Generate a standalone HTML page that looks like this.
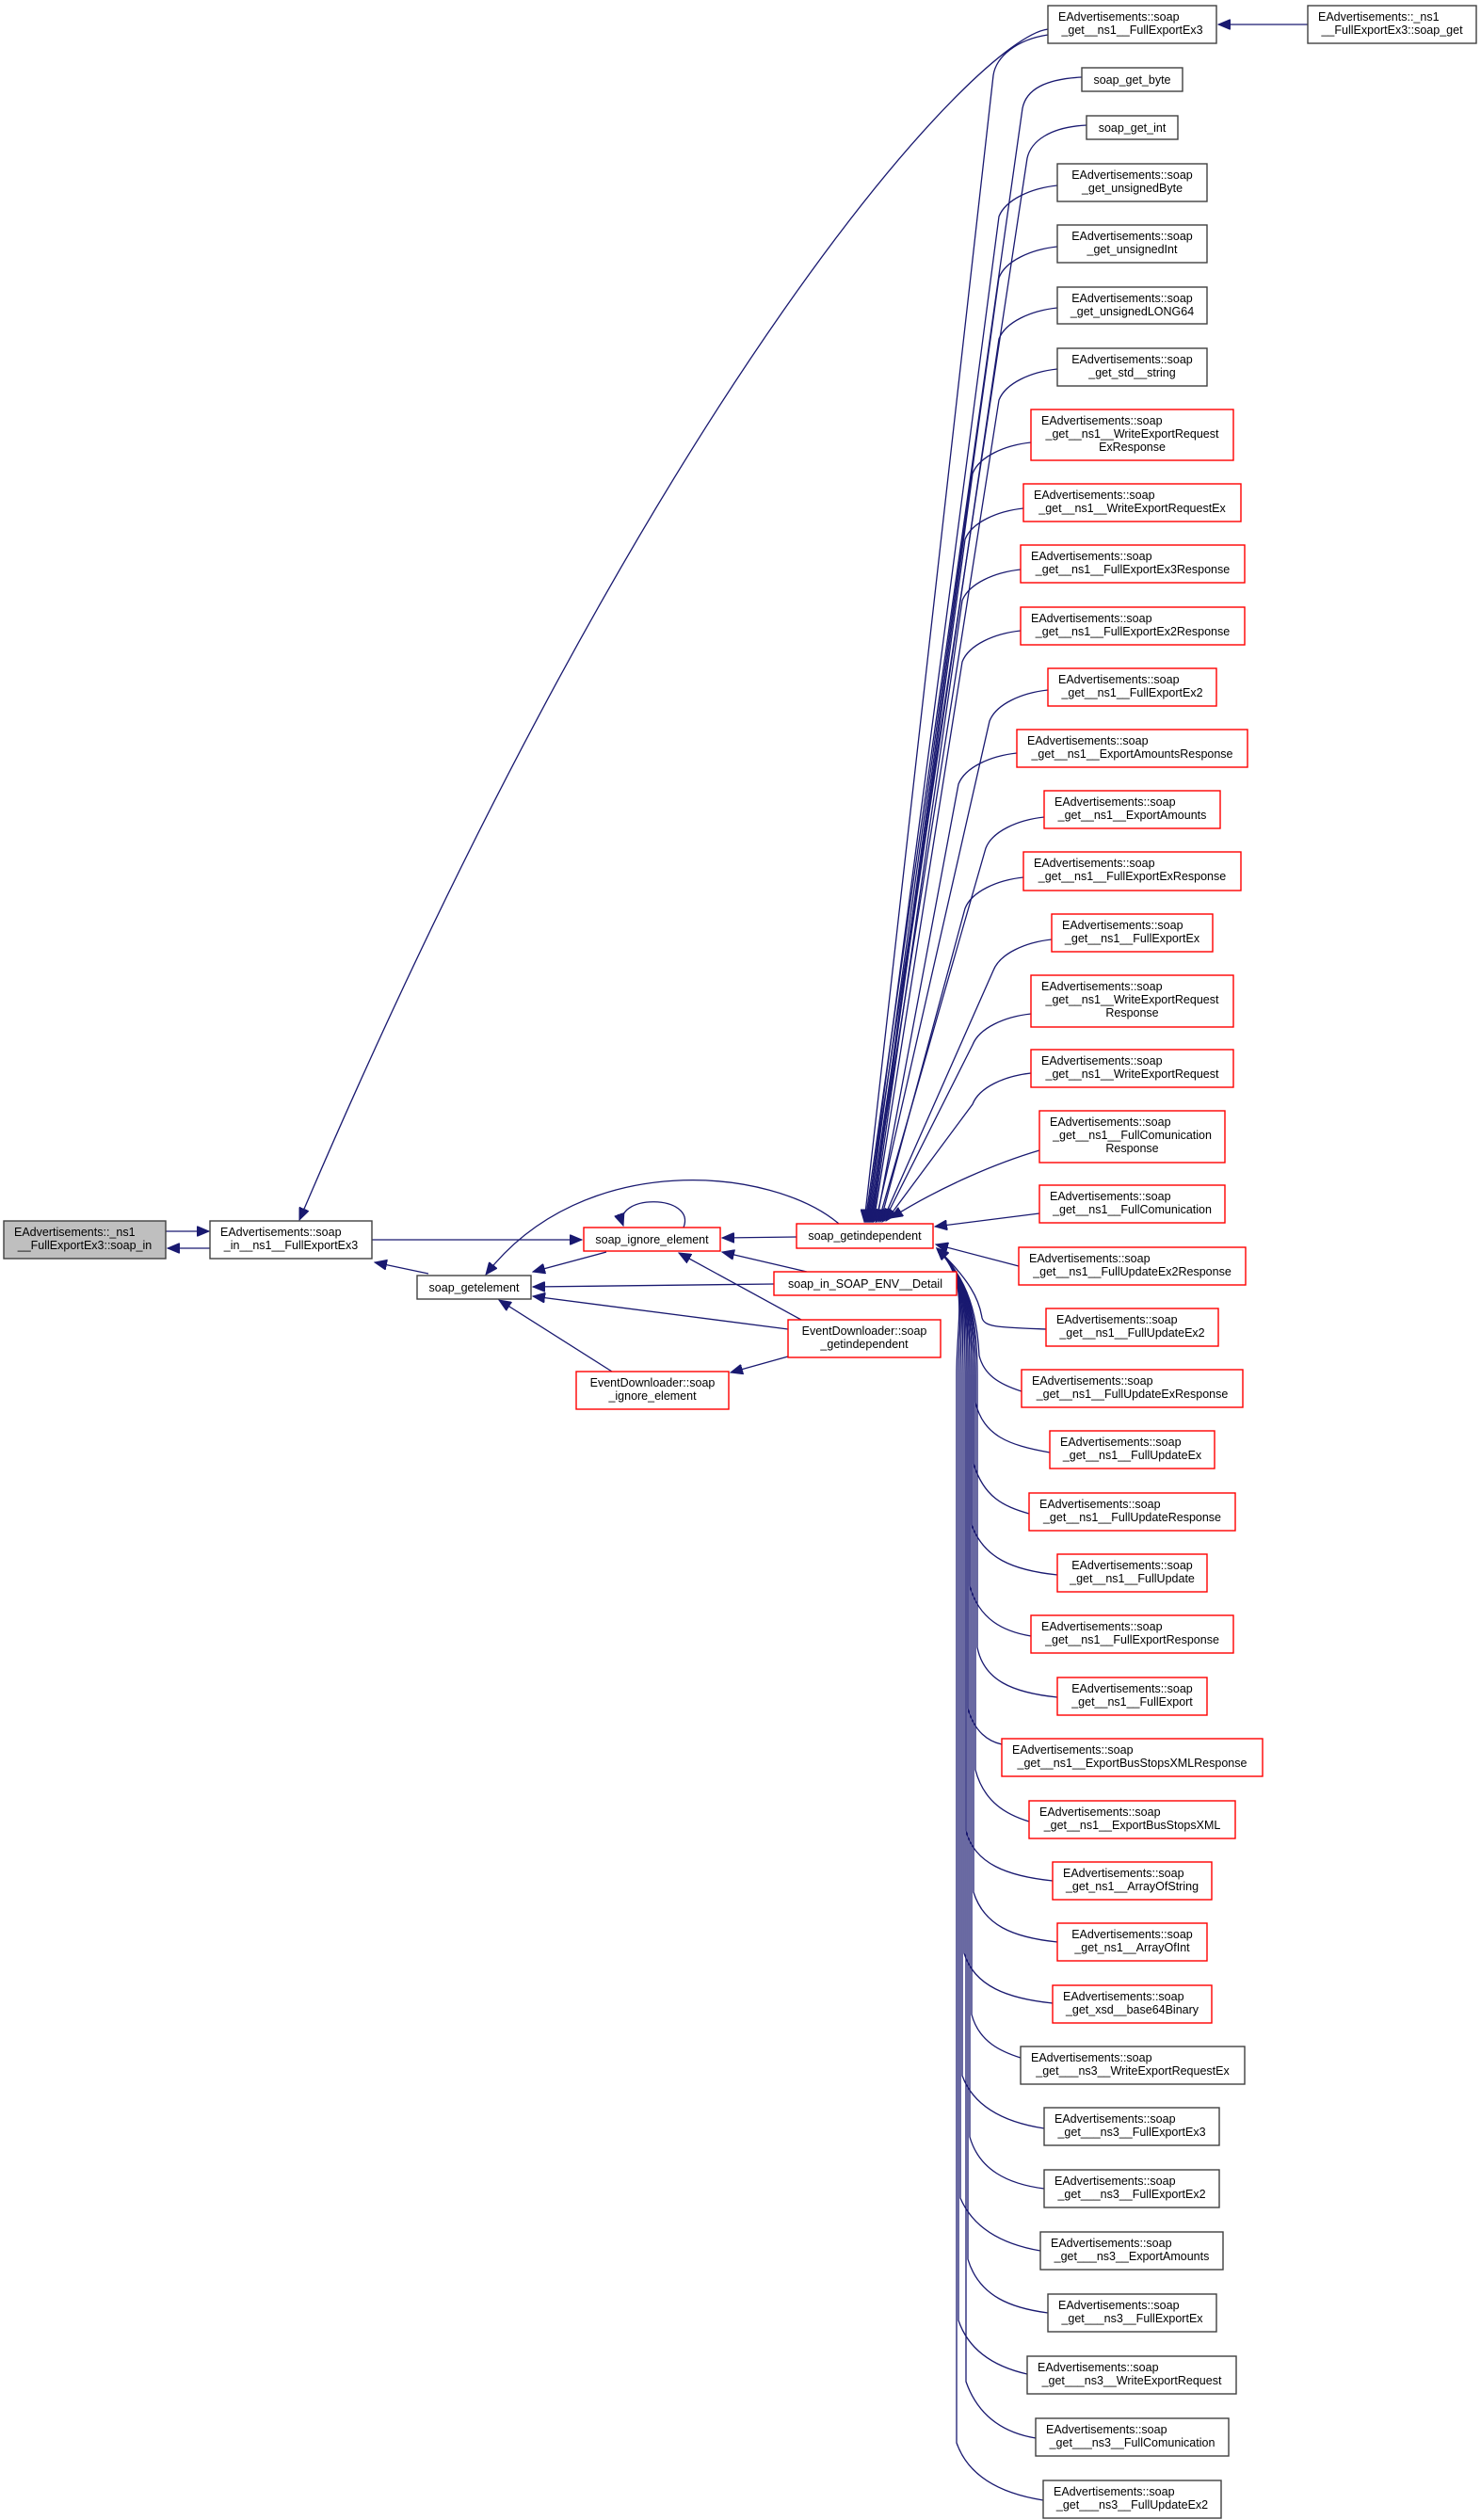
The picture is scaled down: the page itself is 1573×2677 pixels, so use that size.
<!DOCTYPE html>
<html><head><meta charset="utf-8"><style>
html,body{margin:0;padding:0;background:#fff;}
svg{display:block;}
text{font-family:"Liberation Sans",Arial,sans-serif;font-size:12.5px;fill:#000;}
.b{fill:#fff;stroke:#404040;stroke-width:1.4;}
.r{fill:#fff;stroke:#ff0000;stroke-width:1.4;}
.g{fill:#bfbfbf;stroke:#404040;stroke-width:1.4;}
.e{fill:none;stroke:#191970;stroke-width:1.3;}
</style></head><body>
<svg width="1573" height="2677" viewBox="0 0 1573 2677" xmlns="http://www.w3.org/2000/svg">
<defs>
<marker id="a" markerUnits="userSpaceOnUse" markerWidth="14" markerHeight="11" refX="13" refY="5.5" orient="auto-start-reverse">
<path d="M0,0 L13,5.5 L0,11 z" fill="#191970" stroke="#191970"/>
</marker>
</defs>

<!-- left edges -->
<path class="e" d="M176,1308 L222,1308" marker-end="url(#a)"/>
<path class="e" d="M223,1326 L178,1326" marker-end="url(#a)"/>
<path class="e" d="M1113,31 C1040,40 700,400 318,1296" marker-end="url(#a)"/>
<path class="e" d="M394,1317 L618,1317" marker-end="url(#a)"/>
<path class="e" d="M455,1353 L398,1341" marker-end="url(#a)"/>
<path class="e" d="M644,1330 L566,1351" marker-end="url(#a)"/>
<path class="e" d="M891,1300 C820,1240 620,1220 516,1354" marker-end="url(#a)"/>
<path class="e" d="M846,1314 L767,1315" marker-end="url(#a)"/>
<path class="e" d="M726,1304 C740,1268 650,1268 662,1302" marker-end="url(#a)"/>
<path class="e" d="M822,1364 L566,1367" marker-end="url(#a)"/>
<path class="e" d="M857,1351 L767,1330" marker-end="url(#a)"/>
<path class="e" d="M837,1412 L566,1377" marker-end="url(#a)"/>
<path class="e" d="M851,1402 L721,1331" marker-end="url(#a)"/>
<path class="e" d="M837,1441 L776,1458" marker-end="url(#a)"/>
<path class="e" d="M650,1457 L530,1381" marker-end="url(#a)"/>
<path class="e" d="M1389,26 L1294,26" marker-end="url(#a)"/>

<!-- upper fan -->
<g class="e">
<path d="M1113,37 C1080,42 1058,60 1055,80 L918,1298" marker-end="url(#a)"/>
<path d="M1149,82 C1110,84 1090,95 1086,115 L919,1298" marker-end="url(#a)"/>
<path d="M1154,133 C1115,135 1095,150 1091,168 L920,1298" marker-end="url(#a)"/>
<path d="M1123,197 C1095,200 1068,212 1061,230 L921,1298" marker-end="url(#a)"/>
<path d="M1123,262 C1095,265 1068,277 1061,295 L922,1298" marker-end="url(#a)"/>
<path d="M1123,327 C1095,330 1068,342 1061,360 L923,1298" marker-end="url(#a)"/>
<path d="M1123,392 C1095,395 1068,407 1061,425 L924,1298" marker-end="url(#a)"/>
<path d="M1095,470 C1067,473 1040,485 1033,503 L925,1298" marker-end="url(#a)"/>
<path d="M1087,540 C1059,543 1032,555 1025,573 L926,1298" marker-end="url(#a)"/>
<path d="M1084,605 C1056,608 1029,620 1022,638 L927,1298" marker-end="url(#a)"/>
<path d="M1084,670 C1056,673 1029,685 1022,703 L928,1298" marker-end="url(#a)"/>
<path d="M1113,733 C1085,736 1058,748 1051,766 L930,1298" marker-end="url(#a)"/>
<path d="M1080,800 C1052,803 1025,815 1018,833 L931,1298" marker-end="url(#a)"/>
<path d="M1109,868 C1081,871 1054,883 1047,901 L933,1298" marker-end="url(#a)"/>
<path d="M1087,932 C1059,935 1032,947 1025,965 L935,1298" marker-end="url(#a)"/>
<path d="M1117,998 C1089,1001 1062,1013 1055,1031 L937,1298" marker-end="url(#a)"/>
<path d="M1095,1077 C1067,1080 1040,1092 1033,1110 L939,1297" marker-end="url(#a)"/>
<path d="M1095,1140 C1067,1143 1040,1155 1033,1173 L941,1297" marker-end="url(#a)"/>
<path d="M1104,1222 C1060,1235 1000,1260 946,1294" marker-end="url(#a)"/>
<path d="M1104,1289 L993,1303" marker-end="url(#a)"/>
<path d="M1082,1345 L994,1322" marker-end="url(#a)"/>
</g>

<!-- lower fan -->
<g class="e">
<path d="M995,1326 C1030,1360 1040,1380 1043,1400 C1046,1410 1060,1410 1111,1412" marker-start="url(#a)"/>
<path d="M995,1326 C1030,1360 1038,1400 1040,1440 C1045,1460 1060,1470 1085,1478" marker-start="url(#a)"/>
<path d="M995,1326 C1030,1360 1036,1400 1036,1460 L1036,1490 C1045,1525 1070,1535 1115,1543" marker-start="url(#a)"/>
<path d="M995,1326 C1030,1360 1034,1400 1034,1460 L1034,1555 C1045,1590 1065,1600 1093,1608" marker-start="url(#a)"/>
<path d="M995,1326 C1030,1360 1032,1400 1032,1460 L1032,1620 C1045,1655 1075,1668 1123,1673" marker-start="url(#a)"/>
<path d="M995,1326 C1030,1360 1030,1400 1030,1460 L1030,1685 C1040,1720 1065,1733 1095,1738" marker-start="url(#a)"/>
<path d="M995,1326 C1030,1360 1038,1400 1038,1460 L1038,1750 C1045,1785 1075,1798 1123,1803" marker-start="url(#a)"/>
<path d="M995,1326 C1030,1360 1028,1400 1028,1460 L1028,1815 C1035,1840 1050,1850 1064,1853" marker-start="url(#a)"/>
<path d="M995,1326 C1030,1360 1036,1400 1036,1460 L1036,1880 C1045,1915 1070,1928 1093,1935" marker-start="url(#a)"/>
<path d="M995,1326 C1030,1360 1026,1400 1026,1460 L1026,1945 C1035,1980 1070,1993 1118,1998" marker-start="url(#a)"/>
<path d="M995,1326 C1030,1360 1034,1400 1034,1460 L1034,2010 C1045,2045 1075,2058 1123,2063" marker-start="url(#a)"/>
<path d="M995,1326 C1030,1360 1024,1400 1024,1460 L1024,2075 C1035,2110 1070,2123 1118,2128" marker-start="url(#a)"/>
<path d="M995,1326 C1030,1360 1032,1400 1032,1460 L1032,2140 C1040,2170 1065,2180 1084,2186" marker-start="url(#a)"/>
<path d="M995,1326 C1030,1360 1022,1400 1022,1460 L1022,2205 C1035,2240 1070,2255 1109,2261" marker-start="url(#a)"/>
<path d="M995,1326 C1030,1360 1030,1400 1030,1460 L1030,2270 C1040,2305 1070,2320 1109,2325" marker-start="url(#a)"/>
<path d="M995,1326 C1030,1360 1020,1400 1020,1460 L1020,2335 C1035,2370 1070,2385 1105,2391" marker-start="url(#a)"/>
<path d="M995,1326 C1030,1360 1028,1400 1028,1460 L1028,2400 C1040,2440 1075,2452 1113,2457" marker-start="url(#a)"/>
<path d="M995,1326 C1030,1360 1018,1400 1018,1460 L1018,2465 C1030,2500 1060,2515 1091,2522" marker-start="url(#a)"/>
<path d="M995,1326 C1030,1360 1026,1400 1026,1460 L1026,2530 C1040,2570 1070,2585 1100,2590" marker-start="url(#a)"/>
<path d="M995,1326 C1030,1360 1016,1400 1016,1460 L1016,2595 C1030,2635 1070,2650 1108,2656" marker-start="url(#a)"/>
</g>

<!-- left nodes -->
<rect class="g" x="4" y="1297" width="172" height="40"/>
<text x="15" y="1313">EAdvertisements::_ns1</text>
<text x="90" y="1327" text-anchor="middle">__FullExportEx3::soap_in</text>

<rect class="b" x="223" y="1297" width="172" height="40"/>
<text x="234" y="1313">EAdvertisements::soap</text>
<text x="309" y="1327" text-anchor="middle">_in__ns1__FullExportEx3</text>

<rect class="b" x="443" y="1355" width="121" height="25"/>
<text x="503.5" y="1372" text-anchor="middle">soap_getelement</text>

<rect class="r" x="620" y="1304" width="145" height="25"/>
<text x="692.5" y="1321" text-anchor="middle">soap_ignore_element</text>

<rect class="r" x="846" y="1300" width="145" height="26"/>
<text x="918.5" y="1317" text-anchor="middle">soap_getindependent</text>

<rect class="r" x="822" y="1351" width="194" height="25"/>
<text x="919" y="1368" text-anchor="middle">soap_in_SOAP_ENV__Detail</text>

<rect class="r" x="837" y="1402" width="162" height="40"/>
<text x="918" y="1418" text-anchor="middle">EventDownloader::soap</text>
<text x="918" y="1432" text-anchor="middle">_getindependent</text>

<rect class="r" x="612" y="1457" width="162" height="40"/>
<text x="693" y="1473" text-anchor="middle">EventDownloader::soap</text>
<text x="693" y="1487" text-anchor="middle">_ignore_element</text>

<rect class="b" x="1389" y="6" width="179" height="40"/>
<text x="1400" y="22">EAdvertisements::_ns1</text>
<text x="1478.5" y="36" text-anchor="middle">__FullExportEx3::soap_get</text>

<!-- right column -->
<rect class="b" x="1113" y="6" width="179" height="40"/>
<text x="1124" y="22">EAdvertisements::soap</text>
<text x="1202.5" y="36" text-anchor="middle">_get__ns1__FullExportEx3</text>

<rect class="b" x="1149" y="72" width="107" height="25"/>
<text x="1202.5" y="89" text-anchor="middle">soap_get_byte</text>

<rect class="b" x="1154" y="123" width="97" height="25"/>
<text x="1202.5" y="140" text-anchor="middle">soap_get_int</text>

<rect class="b" x="1123" y="174" width="159" height="40"/>
<text x="1202.5" y="190" text-anchor="middle">EAdvertisements::soap</text>
<text x="1202.5" y="204" text-anchor="middle">_get_unsignedByte</text>

<rect class="b" x="1123" y="239" width="159" height="40"/>
<text x="1202.5" y="255" text-anchor="middle">EAdvertisements::soap</text>
<text x="1202.5" y="269" text-anchor="middle">_get_unsignedInt</text>

<rect class="b" x="1123" y="305" width="159" height="39"/>
<text x="1202.5" y="321" text-anchor="middle">EAdvertisements::soap</text>
<text x="1202.5" y="335" text-anchor="middle">_get_unsignedLONG64</text>

<rect class="b" x="1123" y="370" width="159" height="40"/>
<text x="1202.5" y="386" text-anchor="middle">EAdvertisements::soap</text>
<text x="1202.5" y="400" text-anchor="middle">_get_std__string</text>

<rect class="r" x="1095" y="435" width="215" height="54"/>
<text x="1106" y="451">EAdvertisements::soap</text>
<text x="1202.5" y="465" text-anchor="middle">_get__ns1__WriteExportRequest</text>
<text x="1202.5" y="479" text-anchor="middle">ExResponse</text>

<rect class="r" x="1087" y="514" width="231" height="40"/>
<text x="1098" y="530">EAdvertisements::soap</text>
<text x="1202.5" y="544" text-anchor="middle">_get__ns1__WriteExportRequestEx</text>

<rect class="r" x="1084" y="579" width="238" height="40"/>
<text x="1095" y="595">EAdvertisements::soap</text>
<text x="1203" y="609" text-anchor="middle">_get__ns1__FullExportEx3Response</text>

<rect class="r" x="1084" y="645" width="238" height="40"/>
<text x="1095" y="661">EAdvertisements::soap</text>
<text x="1203" y="675" text-anchor="middle">_get__ns1__FullExportEx2Response</text>

<rect class="r" x="1113" y="710" width="179" height="40"/>
<text x="1124" y="726">EAdvertisements::soap</text>
<text x="1202.5" y="740" text-anchor="middle">_get__ns1__FullExportEx2</text>

<rect class="r" x="1080" y="775" width="245" height="40"/>
<text x="1091" y="791">EAdvertisements::soap</text>
<text x="1202.5" y="805" text-anchor="middle">_get__ns1__ExportAmountsResponse</text>

<rect class="r" x="1109" y="840" width="187" height="40"/>
<text x="1120" y="856">EAdvertisements::soap</text>
<text x="1202.5" y="870" text-anchor="middle">_get__ns1__ExportAmounts</text>

<rect class="r" x="1087" y="905" width="231" height="41"/>
<text x="1098" y="921">EAdvertisements::soap</text>
<text x="1202.5" y="935" text-anchor="middle">_get__ns1__FullExportExResponse</text>

<rect class="r" x="1117" y="971" width="171" height="40"/>
<text x="1128" y="987">EAdvertisements::soap</text>
<text x="1202.5" y="1001" text-anchor="middle">_get__ns1__FullExportEx</text>

<rect class="r" x="1095" y="1036" width="215" height="55"/>
<text x="1106" y="1052">EAdvertisements::soap</text>
<text x="1202.5" y="1066" text-anchor="middle">_get__ns1__WriteExportRequest</text>
<text x="1202.5" y="1080" text-anchor="middle">Response</text>

<rect class="r" x="1095" y="1115" width="215" height="40"/>
<text x="1106" y="1131">EAdvertisements::soap</text>
<text x="1202.5" y="1145" text-anchor="middle">_get__ns1__WriteExportRequest</text>

<rect class="r" x="1104" y="1180" width="197" height="55"/>
<text x="1115" y="1196">EAdvertisements::soap</text>
<text x="1202.5" y="1210" text-anchor="middle">_get__ns1__FullComunication</text>
<text x="1202.5" y="1224" text-anchor="middle">Response</text>

<rect class="r" x="1104" y="1259" width="197" height="40"/>
<text x="1115" y="1275">EAdvertisements::soap</text>
<text x="1202.5" y="1289" text-anchor="middle">_get__ns1__FullComunication</text>

<rect class="r" x="1082" y="1325" width="241" height="40"/>
<text x="1093" y="1341">EAdvertisements::soap</text>
<text x="1202.5" y="1355" text-anchor="middle">_get__ns1__FullUpdateEx2Response</text>

<rect class="r" x="1111" y="1390" width="183" height="40"/>
<text x="1122" y="1406">EAdvertisements::soap</text>
<text x="1202.5" y="1420" text-anchor="middle">_get__ns1__FullUpdateEx2</text>

<rect class="r" x="1085" y="1455" width="235" height="40"/>
<text x="1096" y="1471">EAdvertisements::soap</text>
<text x="1202.5" y="1485" text-anchor="middle">_get__ns1__FullUpdateExResponse</text>

<rect class="r" x="1115" y="1520" width="175" height="40"/>
<text x="1126" y="1536">EAdvertisements::soap</text>
<text x="1202.5" y="1550" text-anchor="middle">_get__ns1__FullUpdateEx</text>

<rect class="r" x="1093" y="1586" width="219" height="40"/>
<text x="1104" y="1602">EAdvertisements::soap</text>
<text x="1202.5" y="1616" text-anchor="middle">_get__ns1__FullUpdateResponse</text>

<rect class="r" x="1123" y="1651" width="159" height="40"/>
<text x="1202.5" y="1667" text-anchor="middle">EAdvertisements::soap</text>
<text x="1202.5" y="1681" text-anchor="middle">_get__ns1__FullUpdate</text>

<rect class="r" x="1095" y="1716" width="215" height="40"/>
<text x="1106" y="1732">EAdvertisements::soap</text>
<text x="1202.5" y="1746" text-anchor="middle">_get__ns1__FullExportResponse</text>

<rect class="r" x="1123" y="1782" width="159" height="40"/>
<text x="1202.5" y="1798" text-anchor="middle">EAdvertisements::soap</text>
<text x="1202.5" y="1812" text-anchor="middle">_get__ns1__FullExport</text>

<rect class="r" x="1064" y="1847" width="277" height="40"/>
<text x="1075" y="1863">EAdvertisements::soap</text>
<text x="1202.5" y="1877" text-anchor="middle">_get__ns1__ExportBusStopsXMLResponse</text>

<rect class="r" x="1093" y="1913" width="219" height="40"/>
<text x="1104" y="1929">EAdvertisements::soap</text>
<text x="1202.5" y="1943" text-anchor="middle">_get__ns1__ExportBusStopsXML</text>

<rect class="r" x="1118" y="1978" width="169" height="40"/>
<text x="1129" y="1994">EAdvertisements::soap</text>
<text x="1202.5" y="2008" text-anchor="middle">_get_ns1__ArrayOfString</text>

<rect class="r" x="1123" y="2043" width="159" height="40"/>
<text x="1202.5" y="2059" text-anchor="middle">EAdvertisements::soap</text>
<text x="1202.5" y="2073" text-anchor="middle">_get_ns1__ArrayOfInt</text>

<rect class="r" x="1118" y="2109" width="169" height="40"/>
<text x="1129" y="2125">EAdvertisements::soap</text>
<text x="1202.5" y="2139" text-anchor="middle">_get_xsd__base64Binary</text>

<rect class="b" x="1084" y="2174" width="238" height="40"/>
<text x="1095" y="2190">EAdvertisements::soap</text>
<text x="1203" y="2204" text-anchor="middle">_get___ns3__WriteExportRequestEx</text>

<rect class="b" x="1109" y="2239" width="186" height="40"/>
<text x="1120" y="2255">EAdvertisements::soap</text>
<text x="1202" y="2269" text-anchor="middle">_get___ns3__FullExportEx3</text>

<rect class="b" x="1109" y="2305" width="186" height="40"/>
<text x="1120" y="2321">EAdvertisements::soap</text>
<text x="1202" y="2335" text-anchor="middle">_get___ns3__FullExportEx2</text>

<rect class="b" x="1105" y="2371" width="194" height="40"/>
<text x="1116" y="2387">EAdvertisements::soap</text>
<text x="1202" y="2401" text-anchor="middle">_get___ns3__ExportAmounts</text>

<rect class="b" x="1113" y="2437" width="179" height="40"/>
<text x="1124" y="2453">EAdvertisements::soap</text>
<text x="1202.5" y="2467" text-anchor="middle">_get___ns3__FullExportEx</text>

<rect class="b" x="1091" y="2503" width="222" height="40"/>
<text x="1102" y="2519">EAdvertisements::soap</text>
<text x="1202" y="2533" text-anchor="middle">_get___ns3__WriteExportRequest</text>

<rect class="b" x="1100" y="2569" width="205" height="40"/>
<text x="1111" y="2585">EAdvertisements::soap</text>
<text x="1202.5" y="2599" text-anchor="middle">_get___ns3__FullComunication</text>

<rect class="b" x="1108" y="2635" width="189" height="40"/>
<text x="1119" y="2651">EAdvertisements::soap</text>
<text x="1202.5" y="2665" text-anchor="middle">_get___ns3__FullUpdateEx2</text>
</svg>
</body></html>
